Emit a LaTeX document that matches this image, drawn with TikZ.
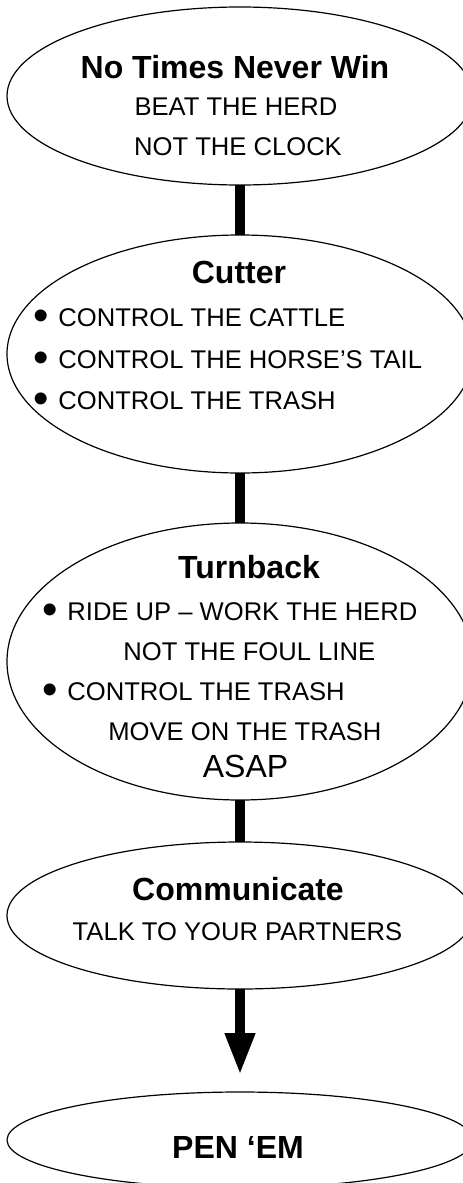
\documentclass[tikz,border=0pt]{standalone}
\usepackage{fontspec}
\setmainfont{Liberation Sans}
\usetikzlibrary{positioning}
\usetikzlibrary{arrows.meta,shapes.geometric}
\tikzset{blob/.style={draw=black, ellipse, line width=0.6pt, inner sep=0pt, outer sep=0pt, minimum width=233pt}}
\tikzset{head/.style={font=\bfseries\fontsize{16}{19}\selectfont, inner sep=0pt, anchor=base}}
\tikzset{txt/.style={font=\fontsize{12.8}{15}\selectfont, inner sep=0pt, anchor=base}}
\newcommand{\bul}{\llap{\raisebox{-2.4pt}{\fontsize{22}{22}\selectfont\textbullet}\hspace{4.5pt}}}

\begin{document}
\begin{tikzpicture}[x=0.5pt, y=-0.5pt, link/.style={line width=5pt}]
		\useasboundingbox (0,0) rectangle (462,1183);
		\node[blob, minimum height=89pt] (win) at (240,96) {};
		\node[blob, minimum height=119pt] (cutter) [below=25pt of win] {};
		\node[blob, minimum height=138.5pt] (turn) [below=25pt of cutter] {};
		\node[blob, minimum height=73.5pt] (talk) [below=21pt of turn] {};
		\node[blob, minimum height=48pt] (pen) [below=51.5pt of talk] {};
		
		% texts
		\node[head] (winT) at (235,78) {No Times Never Win};
		\node[txt] (win1) at (236,115) {BEAT THE HERD};
		\node[txt] (win2) at (238,155) {NOT THE CLOCK};
		
		\node[head] (cutT) at (239,283) {Cutter};
		\node[txt, anchor=base west] (cut1) at (58,326) {\bul CONTROL THE CATTLE};
		\node[txt, anchor=base west] (cut2) at (58,368) {\bul CONTROL THE HORSE’S TAIL};
		\node[txt, anchor=base west] (cut3) at (58,409) {\bul CONTROL THE TRASH};
		
		\node[head] (turnT) at (249,578) {Turnback};
		\node[txt, anchor=base west] (turn1) at (67,620) {\bul RIDE UP -- WORK THE HERD};
		\node[txt, anchor=base west] (turn2) at (123,660) {NOT THE FOUL LINE};
		\node[txt, anchor=base west] (turn3) at (67,700) {\bul CONTROL THE TRASH};
		\node[txt, anchor=base west] (turn4) at (108,740) {MOVE ON THE TRASH};
		\node[txt, font=\fontsize{16}{19}\selectfont] (turn5) at (245.5,777) {ASAP};
		
		\node[head] (talkT) at (238,900) {Communicate};
		\node[txt] (talk1) at (237.5,940) {TALK TO YOUR PARTNERS};
		
		\node[head] (penT) at (238,1158) {PEN ‘EM};
		
		\draw[link] (win) -- (cutter);
		\draw[link] (cutter) -- (turn);
		\draw[link] (turn) -- (talk);
		\draw[link, -{Triangle[width=14pt,length=21pt]}, shorten >=8.5pt] (talk) -- (pen);
	\end{tikzpicture}
\end{document}
